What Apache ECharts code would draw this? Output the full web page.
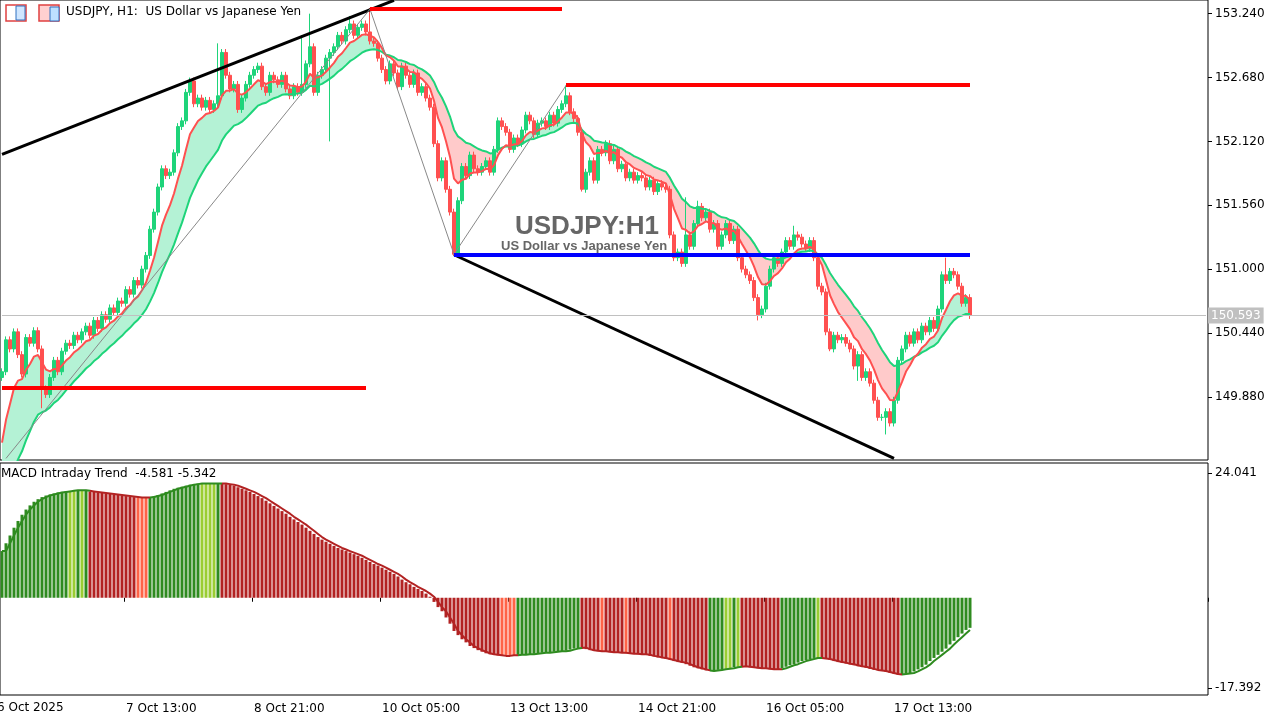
<!DOCTYPE html>
<html><head><meta charset="utf-8">
<script src="https://cdn.jsdelivr.net/npm/echarts@6/dist/echarts.min.js"></script>
<style>html,body{margin:0;padding:0;background:#fff}#c{width:1285px;height:723px}</style>
</head><body><div id="c"></div>
<script>
const closes = [
150.10,150.38,150.30,150.45,150.25,150.08,150.40,150.35,150.46,150.30,
149.95,149.90,150.05,150.20,150.10,150.28,150.35,150.33,150.42,150.38,
150.45,150.50,150.42,150.55,150.48,150.60,150.56,150.66,150.62,150.72,
150.70,150.82,150.78,150.90,150.86,151.00,151.12,151.35,151.50,151.72,
151.88,151.82,151.85,152.02,152.25,152.30,152.55,152.65,152.45,152.50,
152.42,152.48,152.40,152.45,152.52,152.90,152.70,152.58,152.62,152.40,
152.50,152.62,152.70,152.75,152.78,152.60,152.55,152.70,152.66,152.62,
152.70,152.58,152.52,152.60,152.55,152.62,152.80,152.95,152.55,152.70,
152.75,152.85,152.90,152.95,153.05,153.00,153.10,153.15,153.05,153.12,
153.15,153.08,153.00,152.98,152.85,152.75,152.65,152.80,152.72,152.60,
152.78,152.70,152.62,152.72,152.55,152.60,152.50,152.42,152.10,151.80,
151.95,151.70,151.50,151.13,151.60,151.90,151.82,152.00,151.88,151.85,
151.90,151.95,151.85,152.05,152.30,152.25,152.20,152.05,152.15,152.10,
152.22,152.35,152.30,152.18,152.28,152.30,152.25,152.35,152.28,152.40,
152.45,152.52,152.38,152.32,152.20,151.70,151.85,151.95,151.78,152.05,
152.02,152.10,151.95,152.05,151.88,151.92,151.80,151.85,151.78,151.82,
151.80,151.72,151.78,151.68,151.75,151.72,151.70,151.30,151.10,151.15,
151.05,151.30,151.20,151.40,151.55,151.45,151.50,151.35,151.40,151.20,
151.30,151.40,151.25,151.35,151.10,151.00,150.95,150.90,150.75,150.60,
150.65,150.85,151.00,151.10,151.05,151.15,151.25,151.20,151.30,151.28,
151.22,151.18,151.25,151.10,150.85,150.80,150.45,150.30,150.42,150.38,
150.40,150.35,150.30,150.15,150.25,150.05,150.10,150.00,149.85,149.70,
149.70,149.75,149.65,149.85,150.20,150.30,150.42,150.35,150.45,150.38,
150.50,150.45,150.55,150.48,150.65,150.95,150.90,150.98,150.95,150.85,
150.70,150.75,150.593];
const firstOpen = 150.05;
const defaultWick = 0.03;
const longHighs = {54:152.98,75:153.05,77:153.24,87:153.22,92:153.29,124:152.33,141:152.61,171:151.63,174:151.60,198:151.38,236:151.10};
const longLows = {82:152.12,10:149.78,113:151.12,145:151.68,189:150.55,207:150.28,221:149.55,214:150.02};
const macdHist = [
9,10.5,12,13.5,14.8,16,17,17.8,18.5,19,
19.4,19.7,19.9,20.1,20.3,20.4,20.5,20.6,20.7,20.7,
20.7,20.6,20.5,20.4,20.3,20.2,20.1,20,19.9,19.8,
19.7,19.6,19.5,19.4,19.3,19.3,19.3,19.4,19.6,19.8,
20.1,20.4,20.7,21,21.2,21.4,21.6,21.8,21.9,22,
22,22,22,22,22,22,21.9,21.8,21.6,21.3,
21,20.7,20.4,20,19.6,19.2,18.7,18.2,17.7,17.2,
16.7,16.2,15.6,15.1,14.6,14.1,13.5,12.9,12.3,11.7,
11.2,10.8,10.4,10,9.6,9.3,9,8.7,8.4,8.1,
7.7,7.3,6.9,6.5,6.2,5.8,5.4,5,4.6,4.1,
3.5,3.0,2.6,2.1,1.7,1.3,0.8,0.2,-0.8,-1.8,
-2.6,-3.8,-5,-6.4,-7.2,-8,-8.6,-9.3,-9.7,-10.1,
-10.4,-10.7,-10.9,-11,-11.1,-11.2,-11.2,-11.1,-11.1,-11,
-11,-10.9,-10.9,-10.8,-10.7,-10.6,-10.6,-10.5,-10.4,-10.3,
-10.3,-10.2,-10.0,-9.8,-9.7,-9.6,-9.9,-10.1,-10.2,-10.3,
-10.3,-10.4,-10.5,-10.5,-10.6,-10.6,-10.7,-10.8,-10.8,-10.9,
-10.9,-11,-11.2,-11.3,-11.5,-11.6,-11.8,-12,-12.2,-12.4,
-12.5,-12.8,-13.1,-13.4,-13.6,-13.8,-14,-14.1,-14.0,-13.9,
-13.8,-13.7,-13.6,-13.4,-13.3,-13.2,-13.3,-13.4,-13.5,-13.6,
-13.6,-13.7,-13.8,-13.8,-13.8,-13.6,-13.3,-13.0,-12.8,-12.5,
-12.2,-12,-11.8,-11.6,-11.6,-11.7,-11.8,-12,-12.2,-12.4,
-12.5,-12.7,-12.8,-13,-13.2,-13.3,-13.5,-13.7,-13.9,-14,
-14.1,-14.3,-14.5,-14.7,-14.8,-14.7,-14.6,-14.5,-14.2,-13.8,
-13.4,-12.9,-12.2,-11.6,-11,-10.4,-9.8,-9,-8.3,-7.6,
-6.9,-6.2,-5.8];
const colorSegments = [['G',17],['g',2],['G',1],['g',1],['G',1],['R',12],['r',3],['G',13],['g',4],['G',1],['R',70],['r',4],['G',16],['R',5],['r',1],['R',5],['r',1],['R',10],['r',1],['R',9],['G',4],['g',2],['G',1],['g',1],['R',10],['G',9],['g',1],['R',20],['G',18]];
const xTickIdx = [31,63,95,127,159,191,223];
const xTickText = ['7 Oct 13:00','8 Oct 21:00','10 Oct 05:00','13 Oct 13:00','14 Oct 21:00','16 Oct 05:00','17 Oct 13:00'];
const priceTicks = [149.88,150.44,151.0,151.56,152.12,152.68,153.24];
const macdTicks = [24.041,-17.392];
const lastPrice = 150.593;
const fastPeriod = 8, slowPeriod = 20, fastSeed = 149.3, slowSeed = 148.7;

const N = closes.length, SLOTS = 302;
const cats = Array.from({length:SLOTS},(_,i)=>String(i));
const ohlc = closes.map((c,i)=>{
  const o = i===0?firstOpen:closes[i-1];
  const h = longHighs[i]!==undefined?longHighs[i]:Math.max(o,c)+defaultWick;
  const l = longLows[i]!==undefined?longLows[i]:Math.min(o,c)-defaultWick;
  return [o,c,l,h];
});
function ema(arr,p,seed){const k=2/(p+1);let e=seed;return arr.map(v=>(e=e+k*(v-e)));}
const fast = ema(closes,fastPeriod,fastSeed), slow = ema(closes,slowPeriod,slowSeed);
const base = fast.map((f,i)=>Math.min(f,slow[i]));
const gBand = fast.map((f,i)=>f>=slow[i]?f-slow[i]:0);
const rBand = fast.map((f,i)=>f<slow[i]?slow[i]-f:0);
const codes=[];colorSegments.forEach(([c,n])=>{for(let k=0;k<n;k++)codes.push(c);});
const cmap={G:'#2e8b1f',g:'#9acd32',R:'#b22222',r:'#ff6347'};
const histData = macdHist.map((v,i)=>({value:v,itemStyle:{color:cmap[codes[i]]}}));
const signal = macdHist.map((v,i)=>i===0?v:macdHist[i-1]);
const pieces=[];let st=0;
const isG=c=>c==='G'||c==='g';
for(let i=1;i<=N;i++){ if(i===N||isG(codes[i])!==isG(codes[st])){pieces.push({gte:st-0.5,lt:i-0.5,color:isG(codes[st])?'#2e8b1f':'#b22222'});st=i;} }

const ml = (a,b,color,w)=>[{coord:a,lineStyle:{color,width:w,type:'solid'}},{coord:b}];
const chart = echarts.init(document.getElementById('c'));
chart.setOption({
  animation:false,
  textStyle:{fontFamily:'DejaVu Sans'},
  grid:[{left:0,top:0,width:1208,height:460,show:true,borderColor:'#000',borderWidth:1},
        {left:0,top:463,width:1208,height:232,show:true,borderColor:'#000',borderWidth:1}],
  xAxis:[{type:'category',data:cats,gridIndex:0,axisLine:{show:false},axisTick:{show:false},axisLabel:{show:false}},
         {type:'category',data:cats,gridIndex:1,axisLine:{show:false},
          axisTick:{show:true,customValues:xTickIdx,length:4,lineStyle:{color:'#000'}},
          axisLabel:{customValues:xTickIdx,formatter:(v)=>xTickText[xTickIdx.indexOf(+v)]||'',align:'left',color:'#000',fontSize:12,margin:8}}],
  yAxis:[{type:'value',gridIndex:0,position:'right',min:149.326,max:153.36,splitLine:{show:false},
          axisLine:{show:false},axisTick:{show:true,customValues:priceTicks,length:4,lineStyle:{color:'#000'}},
          axisLabel:{customValues:priceTicks,formatter:v=>v.toFixed(3),color:'#000',fontSize:12,margin:7}},
         {type:'value',gridIndex:1,position:'right',min:-18.74,max:25.97,splitLine:{show:false},
          axisLine:{show:false},axisTick:{show:true,customValues:macdTicks,length:4,lineStyle:{color:'#000'}},
          axisLabel:{customValues:macdTicks,formatter:v=>v.toFixed(3),color:'#000',fontSize:12,margin:7}}],
  series:[
    {type:'line',data:base,stack:'b',symbol:'none',lineStyle:{opacity:0},silent:true,z:1},
    {type:'line',data:gBand,stack:'b',symbol:'none',lineStyle:{opacity:0},areaStyle:{color:'#b4f2d5',opacity:1},silent:true,z:1},
    {type:'line',data:rBand,stack:'b',symbol:'none',lineStyle:{opacity:0},areaStyle:{color:'#ffcaca',opacity:1},silent:true,z:1},
    {type:'line',data:slow,symbol:'none',lineStyle:{color:'#1ed47a',width:2},z:3,silent:true},
    {type:'line',data:fast,symbol:'none',lineStyle:{color:'#ff5050',width:2},z:3,silent:true},
    {type:'candlestick',data:ohlc,barWidth:3,z:2,
     itemStyle:{color:'#1ed47a',color0:'#ff5050',borderColor:'#1ed47a',borderColor0:'#ff5050',borderWidth:1},
     markLine:{symbol:'none',silent:true,label:{show:false},animation:false,data:[
       ml([0,152.007],[98,153.357],'#000',3),
       ml([113,151.126],[223,149.34],'#000',3),
       ml([1,149.34],[92,153.28],'#888',1),
       ml([92,153.28],[113,151.13],'#888',1),
       ml([113,151.13],[141,152.61],'#888',1),
       ml([0,149.96],[91,149.96],'#ff0000',4),
       ml([92,153.28],[140,153.28],'#ff0000',4),
       ml([141,152.62],[242,152.62],'#ff0000',4),
       ml([113,151.13],[242,151.13],'#0000ff',4),
       [{coord:[0,lastPrice],lineStyle:{color:'#c0c0c0',width:1,type:'solid'},label:{show:true,position:'end',formatter:lastPrice.toFixed(3),backgroundColor:'#c0c0c0',color:'#fff',fontSize:12,padding:[2,3],distance:2}},{coord:[301,lastPrice]}]
     ]}},
    {type:'bar',xAxisIndex:1,yAxisIndex:1,data:histData,barWidth:3,silent:true},
    {type:'line',xAxisIndex:1,yAxisIndex:1,data:signal,symbol:'none',lineStyle:{width:2},silent:true,z:3}
  ],
  visualMap:{show:false,dimension:0,seriesIndex:7,pieces:pieces},
  graphic:[
    {type:'text',left:515,top:214,z:0,style:{text:'USDJPY:H1',font:'bold 26px "Liberation Sans"',fill:'#666'}},
    {type:'text',left:501,top:240,z:0,style:{text:'US Dollar vs Japanese Yen',font:'bold 13px "Liberation Sans"',fill:'#666'}},
    {type:'rect',shape:{x:6,y:5,width:20,height:16},style:{fill:'#fff',stroke:'#e04040',lineWidth:1.5}},
    {type:'rect',shape:{x:16,y:6,width:9,height:14},style:{fill:'#cfe6ff',stroke:'#3070c0',lineWidth:1}},
    {type:'rect',shape:{x:39,y:5,width:20,height:16},style:{fill:'#ffd0d0',stroke:'#e04040',lineWidth:1.5}},
    {type:'rect',shape:{x:50,y:7,width:9,height:14},style:{fill:'#bde0ff',stroke:'#3070c0',lineWidth:1}},
    {type:'text',left:66,top:6,style:{text:'USDJPY, H1:  US Dollar vs Japanese Yen',font:'12px "DejaVu Sans"',fill:'#000'}},
    {type:'text',left:1,top:468,style:{text:'MACD Intraday Trend  -4.581 -5.342',font:'12px "DejaVu Sans"',fill:'#000'}},
    {type:'text',left:-3,top:702,style:{text:'6 Oct 2025',font:'12px "DejaVu Sans"',fill:'#000'}}
  ]
});
</script></body></html>
